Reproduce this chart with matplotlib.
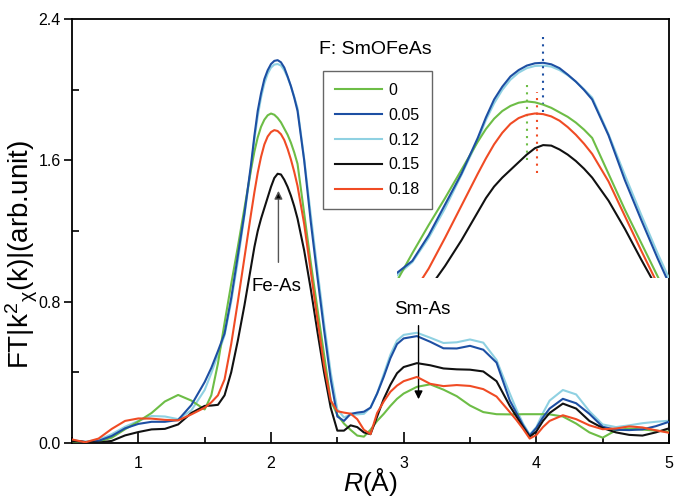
import numpy as np
import matplotlib
matplotlib.use("Agg")
import matplotlib.pyplot as plt
from matplotlib.ticker import MultipleLocator

plt.rcParams['font.family'] = ['Liberation Sans', 'DejaVu Sans']
plt.rcParams['mathtext.fontset'] = 'custom'
plt.rcParams['mathtext.rm'] = 'Liberation Sans'
plt.rcParams['mathtext.it'] = 'Liberation Sans:italic'

"###################### FT magnitude data ######################"
R = [0.5, 0.6, 0.7, 0.8, 0.9, 1.0, 1.1, 1.2, 1.3, 1.4, 1.5,
     1.55, 1.6, 1.65, 1.7, 1.75, 1.8, 1.85,
     1.875, 1.9, 1.925, 1.95, 1.975, 2.0, 2.025, 2.05, 2.075, 2.1, 2.125, 2.15, 2.175, 2.2,
     2.25, 2.3, 2.35, 2.4, 2.45, 2.5, 2.55, 2.6, 2.65, 2.7, 2.75, 2.8, 2.85, 2.9, 2.95, 3.0,
     3.1, 3.2, 3.3, 3.4, 3.5, 3.6, 3.7, 3.8,
     3.85, 3.9, 3.95, 4.0, 4.05, 4.1,
     4.2, 4.3, 4.4, 4.5, 4.6, 4.7, 4.8, 4.9, 5.0]

ft_x000 = [0.010, 0.003, 0.008, 0.030, 0.078, 0.122, 0.170, 0.235, 0.272, 0.240, 0.190,
           0.270, 0.450, 0.680, 0.900, 1.110, 1.330, 1.550,
           1.650, 1.730, 1.790, 1.830, 1.855, 1.865, 1.858, 1.840, 1.815, 1.780, 1.745, 1.700, 1.645, 1.580,
           1.300, 1.020, 0.760, 0.500, 0.240, 0.160, 0.110, 0.074, 0.042, 0.036, 0.075, 0.125, 0.165, 0.210, 0.250, 0.280,
           0.318, 0.332, 0.302, 0.265, 0.212, 0.175, 0.163, 0.162,
           0.162, 0.163, 0.163, 0.163, 0.163, 0.162,
           0.150, 0.110, 0.060, 0.030, 0.072, 0.082, 0.076, 0.070, 0.064]

ft_x005 = [0.015, 0.005, 0.012, 0.040, 0.083, 0.108, 0.120, 0.120, 0.130, 0.215, 0.345,
           0.425, 0.520, 0.620, 0.820, 1.060, 1.300, 1.580,
           1.740, 1.880, 1.980, 2.060, 2.110, 2.145, 2.163, 2.167, 2.155, 2.125, 2.075, 2.020, 1.955, 1.880,
           1.600, 1.250, 0.940, 0.640, 0.360, 0.150, 0.125, 0.165, 0.172, 0.177, 0.200, 0.280, 0.375, 0.480, 0.560, 0.592,
           0.605, 0.573, 0.536, 0.535, 0.550, 0.528, 0.455, 0.240,
           0.170, 0.100, 0.042, 0.085, 0.145, 0.195,
           0.250, 0.225, 0.165, 0.092, 0.075, 0.073, 0.077, 0.095, 0.120]

ft_x012 = [0.015, 0.007, 0.018, 0.050, 0.092, 0.125, 0.153, 0.150, 0.135, 0.185, 0.300,
           0.395, 0.500, 0.610, 0.800, 1.030, 1.290, 1.560,
           1.720, 1.850, 1.955, 2.035, 2.090, 2.125, 2.142, 2.145, 2.137, 2.110, 2.070, 2.020, 1.960, 1.895,
           1.610, 1.290, 0.980, 0.680, 0.400, 0.190, 0.145, 0.160, 0.162, 0.165, 0.200, 0.280, 0.390, 0.500, 0.580, 0.612,
           0.624, 0.596, 0.566, 0.570, 0.586, 0.568, 0.470, 0.280,
           0.190, 0.110, 0.048, 0.090, 0.170, 0.240,
           0.300, 0.275, 0.180, 0.105, 0.090, 0.100, 0.112, 0.120, 0.126]

ft_x015 = [0.012, 0.006, 0.002, 0.012, 0.043, 0.062, 0.077, 0.080, 0.105, 0.170, 0.210,
           0.212, 0.216, 0.270, 0.400, 0.580, 0.780, 1.000,
           1.110, 1.200, 1.270, 1.330, 1.390, 1.450, 1.500, 1.524, 1.520, 1.490, 1.450, 1.400, 1.340, 1.270,
           1.090, 0.870, 0.630, 0.400, 0.200, 0.070, 0.070, 0.100, 0.090, 0.060, 0.050, 0.150, 0.250, 0.330, 0.395, 0.430,
           0.452, 0.440, 0.422, 0.417, 0.415, 0.405, 0.350, 0.210,
           0.150, 0.090, 0.035, 0.065, 0.125, 0.170,
           0.223, 0.195, 0.125, 0.085, 0.060, 0.046, 0.042, 0.060, 0.083]

ft_x018 = [0.020, 0.004, 0.025, 0.080, 0.125, 0.139, 0.138, 0.131, 0.128, 0.162, 0.200,
           0.230, 0.270, 0.360, 0.560, 0.800, 1.050, 1.300,
           1.420, 1.530, 1.620, 1.690, 1.735, 1.760, 1.771, 1.766, 1.748, 1.715, 1.665, 1.605, 1.535, 1.455,
           1.240, 0.970, 0.700, 0.440, 0.240, 0.180, 0.172, 0.166, 0.135, 0.075, 0.050, 0.170, 0.235, 0.290, 0.325, 0.350,
           0.374, 0.335, 0.322, 0.328, 0.323, 0.305, 0.263, 0.175,
           0.130, 0.080, 0.025, 0.045, 0.090, 0.125,
           0.157, 0.135, 0.100, 0.078, 0.082, 0.094, 0.088, 0.072, 0.058]

labels = ['0', '0.05', '0.12', '0.15', '0.18']
colors = ['#6dbd46', '#1d4fa3', '#8fd1e2', '#111111', '#f04b24']
zorders = [3, 3, 2, 4, 5]
series = [ft_x000, ft_x005, ft_x012, ft_x015, ft_x018]

# Fe-As peak positions marked in the inset (0, 0.05, 0.18)
peak_R = [2.00, 2.05, 2.03]
peak_lo = [1.41, 1.78, 1.31]
peak_hi = [2.03, 2.37, 1.94]
peak_colors = ['#6dbd46', '#1d4fa3', '#f04b24']

"###################### Plot ######################"
fig = plt.figure(figsize=(6.75, 4.98), dpi=100)
ax = fig.add_axes([72/675, 55/498, 597/675, 424/498])

for y, c, lab, z in zip(series, colors, labels, zorders):
    ax.plot(R, y, color=c, lw=1.5, label=lab, zorder=z)

ax.set_xlim(0.5, 5)
ax.set_ylim(0, 2.4)
ax.xaxis.set_major_locator(MultipleLocator(1))
ax.xaxis.set_minor_locator(MultipleLocator(0.5))
ax.yaxis.set_major_locator(MultipleLocator(0.8))
ax.yaxis.set_minor_locator(MultipleLocator(0.4))
ax.yaxis.set_major_formatter(lambda v, p: f"{v:.1f}")
ax.tick_params(axis='x', which='major', direction='in', length=8, width=1.2, labelsize=11.5, pad=9)
ax.tick_params(axis='x', which='minor', direction='in', length=4, width=1.2)
ax.tick_params(axis='y', which='major', direction='out', length=6, width=1.2, labelsize=11.5, pad=2)
ax.tick_params(axis='y', which='minor', direction='in', length=5, width=1.2)
for sp in ax.spines.values():
    sp.set_linewidth(1.3)

ax.set_xlabel(r'$\it{R}$(Å)', fontsize=19, labelpad=-3)
ax.set_ylabel(r'FT|k$^{2}$$_{\mathrm{\chi}}$(k)|(arb.unit)', fontsize=20)
ax.yaxis.set_label_coords(-0.054, 0.445)

leg = ax.legend(loc='upper left', bbox_to_anchor=(0.421, 0.878), borderaxespad=0,
                fontsize=11.5, handlelength=2.9, handletextpad=0.45, labelspacing=0.62,
                borderpad=0.75, fancybox=False, framealpha=1)
leg.get_frame().set_edgecolor('#666666')
leg.get_frame().set_linewidth(1.0)
ax.text(0.5075, 0.927, 'F: SmOFeAs', transform=ax.transAxes, fontsize=14,
        ha='center', va='center')

# peak labels
ax.annotate('', xy=(2.056, 1.443), xytext=(2.056, 1.007),
            arrowprops=dict(arrowstyle='-|>', ec='#555555', fc='black', lw=1.0, mutation_scale=12))
ax.text(2.043, 0.887, 'Fe-As', fontsize=13.5, ha='center', va='center')
ax.annotate('', xy=(3.112, 0.232), xytext=(3.112, 0.68),
            arrowprops=dict(arrowstyle='-|>', color='black', lw=1.0, mutation_scale=12))
ax.text(3.14, 0.753, 'Sm-As', fontsize=13.5, ha='center', va='center')

# zoom on the Fe-As peak
inax = fig.add_axes([397/675, 220/498, 272/675, 248/498])
inax.patch.set_alpha(0)
for y, c, z in zip(series, colors, zorders):
    inax.plot(R, y, color=c, lw=1.5, zorder=z)
inax.vlines(peak_R, peak_lo, peak_hi, colors=peak_colors, linestyles=(0, (1, 2.5)), lw=1.5)
inax.set_xlim(1.603, 2.435)
inax.set_ylim(0.486, 2.423)
inax.axis('off')

fig.savefig('out.png', dpi=100)
